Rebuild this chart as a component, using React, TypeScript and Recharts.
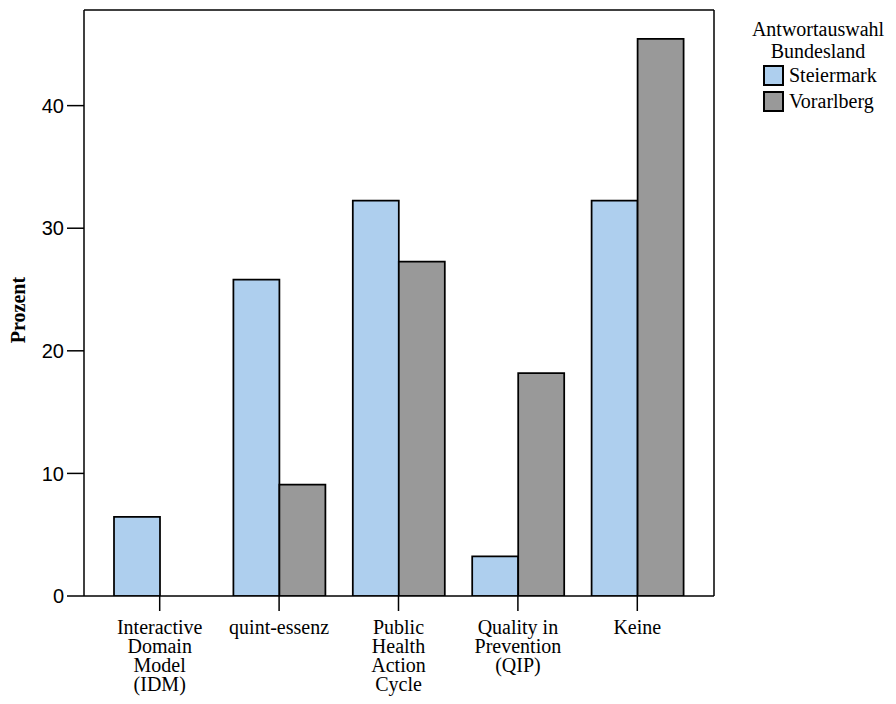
import React from 'react';
import { BarChart, Bar, XAxis, YAxis, Legend } from 'recharts';

const categories = ['IDM', 'quint-essenz', 'PHAC', 'QIP', 'Keine'];
const categoryLabels = [
  ['Interactive', 'Domain', 'Model', '(IDM)'],
  ['quint-essenz'],
  ['Public', 'Health', 'Action', 'Cycle'],
  ['Quality in', 'Prevention', '(QIP)'],
  ['Keine'],
];
const steiermark = [6.45, 25.81, 32.26, 3.23, 32.26];
const vorarlberg = [0, 9.09, 27.27, 18.18, 45.45];
const yTicks = [0, 10, 20, 30, 40];

const seriesNames = ['Steiermark', 'Vorarlberg'];
const colors = ['#AECFEE', '#999999'];

const data = categories.map((name, i) => ({
  name,
  Steiermark: steiermark[i],
  Vorarlberg: vorarlberg[i],
}));

const serif = '"Liberation Serif", "Times New Roman", serif';
const sans = '"Liberation Sans", Arial, sans-serif';

function CategoryTick({ x, y, payload }: any) {
  const idx = categories.indexOf(payload.value);
  const lines = categoryLabels[idx] || [payload.value];
  return (
    <text x={x} y={y} textAnchor="middle" fontFamily={serif} fontSize={20} fill="#000">
      {lines.map((line, i) => (
        <tspan key={i} x={x} dy={i === 0 ? 21 : 19}>{line}</tspan>
      ))}
    </text>
  );
}

function LegendBox() {
  return (
    <div style={{ fontFamily: serif, fontSize: 20, color: '#000' }}>
      <div style={{ textAlign: 'center', lineHeight: '21.5px', whiteSpace: 'nowrap' }}>Antwortauswahl</div>
      <div style={{ textAlign: 'center', lineHeight: '21.5px' }}>Bundesland</div>
      {seriesNames.map((s, i) => (
        <div key={s} style={{ display: 'flex', alignItems: 'center', height: 26, marginLeft: 23 }}>
          <div style={{ width: 17, height: 17, background: colors[i], border: '2px solid #000', flexShrink: 0 }} />
          <span style={{ marginLeft: 5, lineHeight: '26px' }}>{s}</span>
        </div>
      ))}
    </div>
  );
}

export default function App() {
  return (
    <div style={{ position: 'absolute', left: 0, top: 0, background: '#fff' }}>
      <BarChart
        width={896}
        height={704}
        data={data}
        margin={{ top: 9, right: 181, bottom: 0, left: 0 }}
        barCategoryGap={14}
        barGap={0}
      >
        <XAxis
          dataKey="name"
          interval={0}
          height={108}
          padding={{ left: 16, right: 17 }}
          axisLine={{ stroke: '#000', strokeWidth: 1.5 }}
          tickLine={{ stroke: '#000', strokeWidth: 1.5 }}
          tickSize={15}
          tickMargin={2}
          tick={<CategoryTick />}
        />
        <XAxis
          xAxisId="top"
          dataKey="name"
          orientation="top"
          height={1}
          axisLine={{ stroke: '#000', strokeWidth: 1.5 }}
          tick={false}
          tickLine={false}
        />
        <YAxis
          width={84}
          domain={[0, 47.8]}
          ticks={yTicks}
          allowDataOverflow
          axisLine={{ stroke: '#000', strokeWidth: 1.5 }}
          tickLine={{ stroke: '#000', strokeWidth: 1.5 }}
          tickSize={17}
          tickMargin={3}
          tick={{ fontFamily: sans, fontSize: 20, fill: '#000' }}
          label={(props: any) => {
            const vb = props.viewBox;
            const cy = vb.y + vb.height / 2 + 7;
            return (
              <text
                x={25}
                y={cy}
                transform={`rotate(-90, 25, ${cy})`}
                textAnchor="middle"
                fontFamily={serif}
                fontWeight="bold"
                fontSize={20}
                fill="#000"
              >
                Prozent
              </text>
            );
          }}
        />
        <YAxis
          yAxisId="right"
          orientation="right"
          width={1}
          domain={[0, 47.8]}
          axisLine={{ stroke: '#000', strokeWidth: 1.5 }}
          tick={false}
          tickLine={false}
        />
        <Legend
          layout="horizontal"
          verticalAlign="middle"
          content={() => <LegendBox />}
          wrapperStyle={{ position: 'absolute', left: 740, top: 19, width: 156, height: 100 }}
        />
        {seriesNames.map((s, i) => (
          <Bar
            key={s}
            dataKey={s}
            fill={colors[i]}
            stroke="#000"
            strokeWidth={1.75}
            isAnimationActive={false}
          />
        ))}
      </BarChart>
    </div>
  );
}
